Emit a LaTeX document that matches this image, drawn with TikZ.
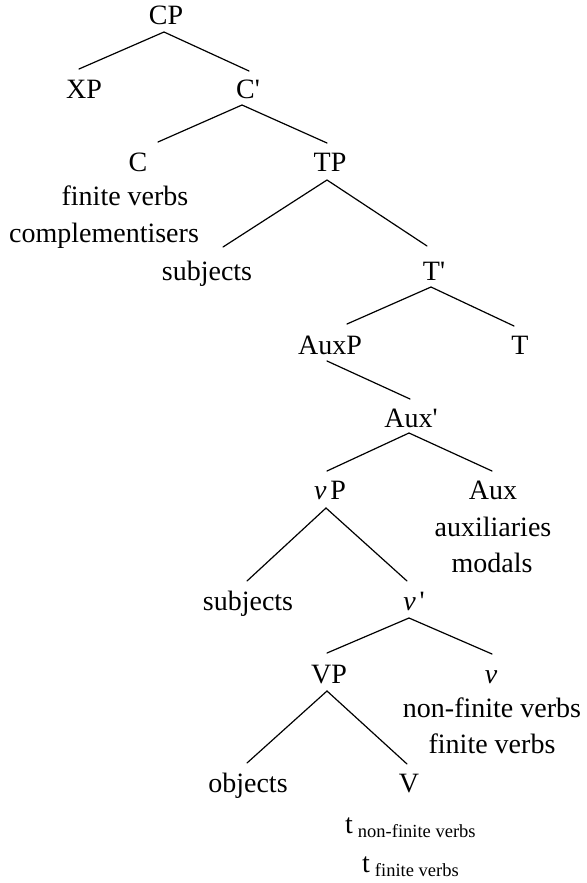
\documentclass[tikz,border=0pt]{standalone}
\usepackage{fontspec}
\setmainfont{Liberation Serif}[Ligatures={TeXOff,CommonOff}]
\usetikzlibrary{calc}
\begin{document}
\begin{tikzpicture}[x=1pt,y=-1pt,
  lbl/.style={anchor=base,inner sep=0pt,font=\fontsize{28}{34}\selectfont},
  trace/.style={anchor=base west,inner sep=0pt,font=\fontsize{28}{34}\selectfont},
  branch/.style={line width=1.2pt,line cap=round}]
\newcommand{\subtext}[1]{\raisebox{-4pt}{\fontsize{18.5}{20}\selectfont #1}}
\useasboundingbox[fill=white] (0,0) rectangle (586,883);

% labels (x = centre, y = baseline)
\node[lbl] (CP)    at (166,25)  {CP};
\node[lbl] (XP)    at (84,98)   {XP};
\node[lbl] (Cbar)  at (248,98)  {C'};
\node[lbl] (C)     at (138,171) {C};
\node[lbl] (Cfin)  at (125,205) {finite verbs};
\node[lbl] (Ccomp) at (104,242) {complementisers};
\node[lbl] (TP)    at (330,171) {TP};
\node[lbl] (subjT) at (207,280) {subjects};
\node[lbl] (Tbar)  at (434,280) {T'};
\node[lbl] (AuxP)  at (330,354) {AuxP};
\node[lbl] (T)     at (520,354) {T};
\node[lbl] (Auxbar) at (411,427) {Aux'};
\node[lbl] (vP)    at (330,499) {\textit{v}\hspace{4pt}P};
\node[lbl] (Aux)   at (493,499) {Aux};
\node[lbl] (Auxa)  at (493,536) {auxiliaries};
\node[lbl] (Auxm)  at (492,572) {modals};
\node[lbl] (subjv) at (248,610) {subjects};
\node[lbl] (vbar)  at (414,610) {\textit{v}\hspace{4pt}'};
\node[lbl] (VP)    at (329,683) {VP};
\node[lbl] (v)     at (491,683) {\textit{v}};
\node[lbl] (vnf)   at (492,717) {non-finite verbs};
\node[lbl] (vf)    at (492,753) {finite verbs};
\node[lbl] (obj)   at (248,792) {objects};
\node[lbl] (V)     at (409,792) {V};
\node[trace] (tnf) at (345,833) {t\hspace{5pt}\subtext{non-finite verbs}};
\node[trace] (tf)  at (362,872) {t\hspace{5pt}\subtext{finite verbs}};

% branches
\draw[branch] ($(XP.base)+(-5,-29)$) -- ($(CP.base)+(-2,7)$) -- ($(Cbar.base)+(1,-27)$);
\draw[branch] ($(C.base)+(20,-29)$) -- ($(Cbar.base)+(-6,7)$) -- ($(TP.base)+(-3,-28)$);
\draw[branch] ($(subjT.base)+(16,-33)$) -- ($(TP.base)+(-3,9)$) -- ($(Tbar.base)+(-7,-34)$);
\draw[branch] ($(AuxP.base)+(17,-30)$) -- ($(Tbar.base)+(-3,7)$) -- ($(T.base)+(-6,-28)$);
\draw[branch] ($(AuxP.base)+(-3,7)$) -- ($(Auxbar.base)+(-1,-28)$);
\draw[branch] ($(vP.base)+(-3,-28)$) -- ($(Auxbar.base)+(-2,6)$) -- ($(Aux.base)+(-1,-28)$);
\draw[branch] ($(subjv.base)+(-1,-29)$) -- ($(vP.base)+(-4,9)$) -- ($(vbar.base)+(-7,-29)$);
\draw[branch] ($(VP.base)+(-2,-30)$) -- ($(vbar.base)+(-5,8)$) -- ($(v.base)+(1,-29)$);
\draw[branch] ($(obj.base)+(-1,-29)$) -- ($(VP.base)+(-2,8)$) -- ($(V.base)+(-2,-28)$);
\end{tikzpicture}
\end{document}
